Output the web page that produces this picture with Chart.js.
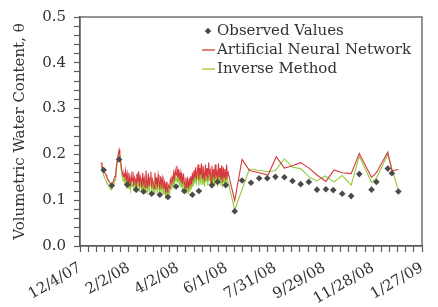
<!DOCTYPE html>
<html>
<head>
<meta charset="utf-8">
<script src="https://cdn.jsdelivr.net/npm/chart.js@4.4.1/dist/chart.umd.min.js"></script>
<style>
  html, body { margin: 0; padding: 0; background: #fff; }
</style>
</head>
<body>
<canvas id="chart" width="438" height="307"></canvas>
<script>
// x values are days since 12/4/07
const dateLabels = ["12/4/07", "2/2/08", "4/2/08", "6/1/08", "7/31/08", "9/29/08", "11/28/08", "1/27/09"];

const obsDays = [29, 39, 48, 58, 69, 78, 88, 98, 108, 118, 128, 138, 146, 162, 169, 179, 190, 199, 210, 220, 230,
  240, 251, 261, 271, 281, 291, 302, 311, 322, 333, 343, 358, 364, 378, 383, 391];
const obsValues = [0.166, 0.132, 0.189, 0.134, 0.123, 0.119, 0.114, 0.112, 0.107, 0.130, 0.120, 0.112, 0.120, 0.133,
  0.140, 0.133, 0.076, 0.143, 0.138, 0.148, 0.148, 0.151, 0.150, 0.142, 0.135, 0.140, 0.123, 0.124, 0.122, 0.114,
  0.109, 0.157, 0.123, 0.140, 0.169, 0.159, 0.119];

// daily values of both models, from day 26 to day 182
const denseStartDay = 26;
const annDaily = [
  0.182, 0.176, 0.170, 0.168, 0.162, 0.158, 0.155, 0.150, 0.146, 0.143,
  0.140, 0.137, 0.134, 0.133, 0.138, 0.141, 0.147, 0.152, 0.165, 0.178,
  0.192, 0.200, 0.210, 0.198, 0.185, 0.170, 0.160, 0.152, 0.158, 0.150,
  0.165, 0.145, 0.158, 0.138, 0.160, 0.148, 0.135, 0.155, 0.142, 0.162,
  0.132, 0.150, 0.145, 0.128, 0.158, 0.140, 0.163, 0.130, 0.152, 0.145,
  0.127, 0.160, 0.138, 0.148, 0.128, 0.165, 0.142, 0.133, 0.158, 0.130,
  0.150, 0.162, 0.128, 0.145, 0.138, 0.125, 0.160, 0.135, 0.150, 0.128,
  0.155, 0.142, 0.124, 0.152, 0.135, 0.148, 0.126, 0.145, 0.138, 0.122,
  0.140, 0.118, 0.135, 0.130, 0.125, 0.145, 0.138, 0.150, 0.142, 0.160,
  0.148, 0.165, 0.155, 0.175, 0.150, 0.168, 0.145, 0.160, 0.140, 0.155,
  0.135, 0.158, 0.142, 0.128, 0.150, 0.132, 0.145, 0.125, 0.148, 0.130,
  0.152, 0.135, 0.160, 0.142, 0.165, 0.148, 0.172, 0.150, 0.160, 0.178,
  0.145, 0.170, 0.155, 0.180, 0.148, 0.175, 0.160, 0.142, 0.178, 0.152,
  0.170, 0.145, 0.182, 0.158, 0.165, 0.140, 0.175, 0.150, 0.168, 0.145,
  0.178, 0.155, 0.162, 0.142, 0.180, 0.150, 0.170, 0.145, 0.176, 0.140,
  0.172, 0.150, 0.168, 0.145, 0.178, 0.152, 0.160
];
const invDaily = [
  0.175, 0.168, 0.160, 0.155, 0.150, 0.146, 0.142, 0.138, 0.135, 0.132,
  0.128, 0.126, 0.124, 0.123, 0.128, 0.132, 0.138, 0.145, 0.158, 0.170,
  0.185, 0.194, 0.200, 0.190, 0.176, 0.160, 0.150, 0.142, 0.146, 0.138,
  0.150, 0.132, 0.145, 0.126, 0.146, 0.136, 0.122, 0.142, 0.130, 0.148,
  0.120, 0.138, 0.132, 0.117, 0.145, 0.128, 0.150, 0.118, 0.140, 0.133,
  0.116, 0.146, 0.126, 0.136, 0.116, 0.150, 0.130, 0.120, 0.145, 0.118,
  0.138, 0.148, 0.116, 0.132, 0.126, 0.114, 0.146, 0.122, 0.138, 0.116,
  0.142, 0.130, 0.112, 0.140, 0.122, 0.135, 0.114, 0.132, 0.126, 0.110,
  0.128, 0.106, 0.122, 0.118, 0.114, 0.132, 0.126, 0.138, 0.130, 0.148,
  0.136, 0.152, 0.142, 0.160, 0.138, 0.155, 0.132, 0.148, 0.128, 0.142,
  0.122, 0.145, 0.130, 0.116, 0.138, 0.120, 0.132, 0.114, 0.136, 0.118,
  0.140, 0.124, 0.148, 0.130, 0.152, 0.136, 0.158, 0.138, 0.148, 0.162,
  0.132, 0.156, 0.142, 0.165, 0.135, 0.160, 0.146, 0.130, 0.162, 0.140,
  0.156, 0.132, 0.165, 0.145, 0.152, 0.128, 0.160, 0.138, 0.155, 0.132,
  0.162, 0.142, 0.150, 0.130, 0.165, 0.138, 0.156, 0.132, 0.160, 0.128,
  0.158, 0.138, 0.155, 0.132, 0.162, 0.140, 0.140
];

// sparse part after the daily record
const annTailDays = [190, 199, 208, 220, 231, 241, 251, 261, 271, 282, 291, 302, 312, 322, 333, 343, 358, 364, 378, 383, 391];
const annTail = [0.099, 0.189, 0.165, 0.160, 0.155, 0.195, 0.170, 0.175, 0.182, 0.169, 0.155, 0.141, 0.166, 0.160,
  0.158, 0.202, 0.150, 0.160, 0.205, 0.164, 0.167];
const invTailDays = [190, 208, 231, 240, 251, 261, 271, 282, 291, 301, 312, 322, 333, 343, 358, 364, 378, 391];
const invTail = [0.078, 0.168, 0.162, 0.165, 0.190, 0.172, 0.169, 0.150, 0.142, 0.153, 0.140, 0.154, 0.133, 0.196,
  0.139, 0.148, 0.200, 0.121];

const FONT = "'DejaVu Serif', 'Liberation Serif', serif";
const INK = "#333333";
const AXIS = "#5a5a5a";
const RED = "#d63a3f";
const GREEN = "#95c93d";

function toPoints(xs, ys) {
  return xs.map((x, i) => ({ x: x, y: ys[i] }));
}

function seriesPoints(daily, tailDays, tail) {
  const pts = daily.map((v, i) => ({ x: denseStartDay + i, y: v }));
  return pts.concat(toPoints(tailDays, tail));
}

// frame around the plot and the legend inside it
const framePlugin = {
  id: "frame",
  afterDraw(chart) {
    const { ctx, chartArea: a } = chart;
    ctx.save();
    ctx.strokeStyle = AXIS;
    ctx.lineWidth = 1.3;
    ctx.strokeRect(a.left, a.top, a.right - a.left, a.bottom - a.top);

    const x0 = a.left + 122;
    const tx = x0 + 15;
    const rows = [a.top + 14, a.top + 33, a.top + 52];
    ctx.font = "15px " + FONT;
    ctx.textBaseline = "middle";
    chart.data.datasets.forEach((ds, i) => {
      const y = rows[i];
      if (ds.showLine === false) {
        ctx.save();
        ctx.fillStyle = ds.backgroundColor;
        ctx.translate(x0 + 6, y);
        ctx.rotate(Math.PI / 4);
        ctx.fillRect(-2.3, -2.3, 4.6, 4.6);
        ctx.restore();
      } else {
        ctx.strokeStyle = ds.borderColor;
        ctx.lineWidth = 1.3;
        ctx.beginPath();
        ctx.moveTo(x0, y);
        ctx.lineTo(x0 + 13, y);
        ctx.stroke();
      }
      ctx.fillStyle = INK;
      ctx.fillText(ds.label, tx, y);
    });
    ctx.restore();
  }
};

new Chart(document.getElementById("chart"), {
  type: "scatter",
  data: {
    datasets: [
      {
        label: "Observed Values",
        data: toPoints(obsDays, obsValues),
        showLine: false,
        pointStyle: "rectRot",
        pointRadius: 3.3,
        backgroundColor: "#4a4a4a",
        borderWidth: 0
      },
      {
        label: "Artificial Neural Network",
        data: seriesPoints(annDaily, annTailDays, annTail),
        showLine: true,
        borderColor: RED,
        borderWidth: 1.1,
        pointRadius: 0,
        tension: 0
      },
      {
        label: "Inverse Method",
        data: seriesPoints(invDaily, invTailDays, invTail),
        showLine: true,
        borderColor: GREEN,
        borderWidth: 1.1,
        pointRadius: 0,
        tension: 0
      }
    ]
  },
  options: {
    responsive: false,
    animation: false,
    layout: { padding: { top: 10, right: 1, left: 0, bottom: 0 } },
    plugins: { legend: { display: false }, tooltip: { enabled: false } },
    scales: {
      x: {
        type: "linear",
        min: 0,
        max: 420,
        afterFit: (s) => { s.height = 61; },
        border: { color: AXIS, width: 1.3 },
        grid: {
          display: true, drawOnChartArea: false, drawTicks: true,
          tickLength: 6, tickColor: AXIS, tickWidth: 1.2, color: AXIS
        },
        ticks: {
          stepSize: 10,
          autoSkip: false,
          maxRotation: 30,
          minRotation: 30,
          padding: 7,
          color: INK,
          font: { family: FONT, size: 15 },
          callback: (v) => (v % 60 === 0 ? dateLabels[v / 60] : "")
        }
      },
      y: {
        min: 0,
        max: 0.5,
        afterFit: (s) => { s.width = 80; },
        border: { color: AXIS, width: 1.3 },
        grid: {
          display: true, drawOnChartArea: false, drawTicks: true,
          tickLength: 6, tickColor: AXIS, tickWidth: 1.2, color: AXIS
        },
        title: {
          display: true,
          text: "Volumetric Water Content, θ",
          color: INK,
          font: { family: FONT, size: 15 },
          padding: { top: 11, bottom: 0 }
        },
        ticks: {
          stepSize: 0.02,
          autoSkip: false,
          padding: 8,
          color: INK,
          font: { family: FONT, size: 15 },
          callback: (v) => {
            const t = v * 10;
            return Math.abs(t - Math.round(t)) < 1e-6 ? v.toFixed(1) : "";
          }
        }
      }
    }
  },
  plugins: [framePlugin]
});
</script>
</body>
</html>
